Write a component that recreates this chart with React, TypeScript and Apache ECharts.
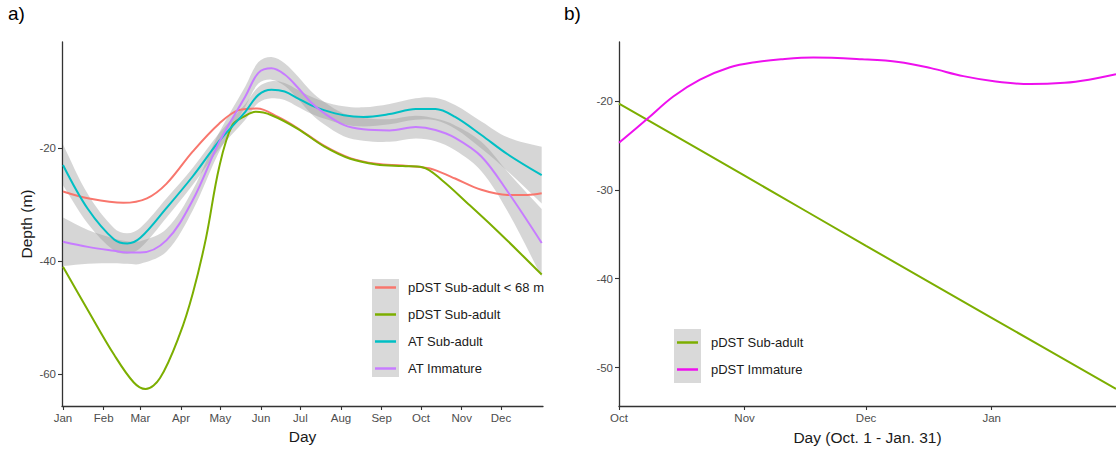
import React, { useEffect, useRef } from "react";
import * as echarts from "echarts";

// ---------- Panel a: tick labels ----------
const monthNames = ["Jan", "Feb", "Mar", "Apr", "May", "Jun", "Jul", "Aug", "Sep", "Oct", "Nov", "Dec"];
const monthStartDays = [1, 32, 60, 91, 121, 152, 182, 213, 244, 274, 305, 335];
const depthTicksA = [-60, -40, -20];

// ---------- Panel a: series (day of year, depth m) ----------
const daysRed = [1, 20, 47, 65, 80, 100, 120, 135, 149, 165, 180, 200, 220, 240, 260, 280, 290, 300, 320, 340, 355, 366];
const depthRed = [-27.7, -28.9, -29.7, -28.9, -26.3, -20.6, -15.7, -13.3, -13.0, -14.5, -16.5, -19.6, -21.8, -22.8, -23.1, -23.6, -24.4, -25.4, -27.4, -28.3, -28.3, -28.0];

const daysGreen = [1, 20, 40, 55, 64, 75, 90, 100, 110, 120, 130, 140, 148, 160, 180, 200, 220, 240, 260, 275, 290, 310, 330, 350, 366];
const depthGreen = [-41.0, -48.7, -56.6, -61.5, -62.65, -60.7, -53.0, -45.7, -36.0, -23.5, -16.0, -14.3, -13.6, -14.2, -16.6, -19.7, -21.9, -22.9, -23.2, -23.4, -25.7, -29.9, -34.2, -38.7, -42.4];

const daysAT = [1, 20, 40, 50, 60, 80, 100, 120, 140, 150, 160, 170, 180, 190, 200, 215, 230, 250, 270, 285, 300, 320, 340, 366];
const depthCyan = [-23.0, -30.8, -36.2, -36.9, -35.9, -30.6, -25.0, -18.8, -13.6, -10.6, -9.7, -10.0, -11.2, -12.4, -13.3, -14.2, -14.5, -14.0, -13.1, -13.1, -14.5, -17.7, -21.1, -24.8];
const cyanHalf = [3.6, 2.6, 2.0, 1.8, 1.8, 1.7, 1.5, 1.4, 1.4, 1.4, 1.5, 1.5, 1.5, 1.5, 1.5, 1.6, 1.7, 1.8, 1.9, 2.0, 2.1, 2.4, 3.0, 5.0];
const depthPurple = [-36.6, -37.5, -38.2, -38.5, -38.5, -36.3, -29.2, -19.0, -10.9, -6.7, -5.9, -7.0, -9.3, -11.9, -13.8, -15.9, -16.7, -16.9, -16.3, -16.8, -18.2, -21.5, -27.7, -36.8];
const purpleHalf = [4.3, 3.0, 2.2, 2.0, 2.0, 2.0, 1.8, 1.7, 1.8, 1.9, 2.0, 2.0, 2.0, 2.0, 2.0, 2.0, 2.0, 2.0, 2.0, 2.0, 2.2, 2.6, 3.5, 6.0];

// ---------- Panel b ----------
const monthNamesB = ["Oct", "Nov", "Dec", "Jan"];
const monthStartB = [0, 31, 61, 92];
const depthTicksB = [-50, -40, -30, -20];
const daysGreenB = [0, 31, 61, 92, 122.7];
const depthGreenB = [-20.3, -28.4, -36.3, -44.4, -52.4];
const daysMagentaB = [0, 7, 13.4, 20, 27.4, 34, 40, 48, 60, 69, 77, 85, 93, 101.5, 110, 116, 122.7];
const depthMagentaB = [-24.7, -22.0, -19.5, -17.6, -16.2, -15.6, -15.3, -15.1, -15.3, -15.6, -16.3, -17.2, -17.8, -18.1, -17.95, -17.6, -17.0];

const namesA = ["pDST Sub-adult < 68 m", "pDST Sub-adult", "AT Sub-adult", "AT Immature"];
const namesB = ["pDST Sub-adult", "pDST Immature"];

const C_RED = "#F8766D";
const C_GREEN = "#7CAE00";
const C_CYAN = "#00BFC4";
const C_PURPLE = "#C77CFF";
const C_MAGENTA = "#EE10EE";
const RIBBON = "rgba(153,153,153,0.4)";
const FONT = "Liberation Sans";
const SMOOTH = 0.35;

const zip = (xs: number[], ys: number[]) => xs.map((x, i) => [x, ys[i]]);

function lineSeries(name: string, xs: number[], ys: number[], color: string, gi: number) {
  return {
    type: "line",
    name,
    xAxisIndex: gi,
    yAxisIndex: gi,
    data: zip(xs, ys),
    smooth: SMOOTH,
    showSymbol: false,
    symbol: "none",
    lineStyle: { color, width: 2 },
    itemStyle: { color },
    z: 5,
  };
}

// confidence band drawn as one smoothed polygon through the axis scales
function ribbon(key: string, xs: number[], mid: number[], half: number[]) {
  return {
    type: "custom",
    name: key,
    xAxisIndex: 0,
    yAxisIndex: 0,
    silent: true,
    clip: true,
    z: 1,
    data: xs.map((x, i) => [x, mid[i] - half[i], mid[i] + half[i]]),
    encode: { x: 0, y: [1, 2] },
    renderItem: (params: any, api: any) => {
      if (params.dataIndex !== 0) return null;
      const upper = xs.map((x, i) => api.coord([x, mid[i] + half[i]]));
      const lower = xs.map((x, i) => api.coord([x, mid[i] - half[i]])).reverse();
      const pts = [upper[0], ...upper, upper[upper.length - 1], lower[0], ...lower, lower[lower.length - 1]];
      return {
        type: "polygon",
        shape: { points: pts, smooth: SMOOTH },
        style: { fill: RIBBON },
      };
    },
  };
}

const axisLineStyle = { show: true, onZero: false, lineStyle: { color: "#333333", width: 1.3 } };
const tickStyle = { show: true, length: 4, lineStyle: { color: "#333333", width: 1.1 } };
const labelBase = { color: "#4d4d4d", fontSize: 11.5, fontFamily: FONT };
const titleStyle = { color: "#1a1a1a", fontSize: 15.5, fontFamily: FONT };
const legendText = { color: "#1a1a1a", fontSize: 13, fontFamily: FONT, lineHeight: 27 };

export default function App() {
  const ref = useRef<HTMLDivElement>(null);
  useEffect(() => {
    if (!ref.current) return;
    const chart = echarts.init(ref.current, undefined, { renderer: "svg" });
    const option: any = {
      animation: false,
      backgroundColor: "#ffffff",
      textStyle: { fontFamily: FONT },
      grid: [
        { left: 62, top: 42, width: 481, height: 364 },
        { left: 619, top: 42, width: 497, height: 364 },
      ],
      xAxis: [
        {
          gridIndex: 0,
          type: "value",
          min: 0.25,
          max: 367,
          name: "Day",
          nameLocation: "middle",
          nameGap: 21,
          nameTextStyle: titleStyle,
          axisLine: axisLineStyle,
          axisTick: { ...tickStyle, customValues: monthStartDays },
          axisLabel: {
            ...labelBase,
            margin: 6,
            customValues: monthStartDays,
            formatter: (v: number) => monthNames[monthStartDays.indexOf(v)] ?? "",
          },
          splitLine: { show: false },
        },
        {
          gridIndex: 1,
          type: "value",
          min: 0,
          max: 122.7,
          name: "Day (Oct. 1 - Jan. 31)",
          nameLocation: "middle",
          nameGap: 23,
          nameTextStyle: titleStyle,
          axisLine: axisLineStyle,
          axisTick: { ...tickStyle, customValues: monthStartB },
          axisLabel: {
            ...labelBase,
            margin: 6,
            customValues: monthStartB,
            formatter: (v: number) => monthNamesB[monthStartB.indexOf(v)] ?? "",
          },
          splitLine: { show: false },
        },
      ],
      yAxis: [
        {
          gridIndex: 0,
          type: "value",
          min: -65.66,
          max: -1.24,
          name: "Depth (m)",
          nameLocation: "middle",
          nameGap: 28,
          nameTextStyle: titleStyle,
          axisLine: axisLineStyle,
          axisTick: { ...tickStyle, customValues: depthTicksA },
          axisLabel: { ...labelBase, margin: 6, customValues: depthTicksA },
          splitLine: { show: false },
        },
        {
          gridIndex: 1,
          type: "value",
          min: -54.32,
          max: -13.36,
          axisLine: axisLineStyle,
          axisTick: { ...tickStyle, customValues: depthTicksB },
          axisLabel: { ...labelBase, margin: 6, customValues: depthTicksB },
          splitLine: { show: false },
        },
      ],
      legend: [
        {
          data: namesA,
          orient: "vertical",
          left: 375,
          top: 274,
          padding: 0,
          itemWidth: 21,
          itemHeight: 2.5,
          itemGap: 0,
          icon: "rect",
          selectedMode: false,
          textStyle: { ...legendText, padding: [0, 0, 0, 7] },
        },
        {
          data: namesB,
          orient: "vertical",
          left: 677,
          top: 329,
          padding: 0,
          itemWidth: 21,
          itemHeight: 2.5,
          itemGap: 0,
          icon: "rect",
          selectedMode: false,
          textStyle: { ...legendText, padding: [0, 0, 0, 8] },
        },
      ],
      graphic: [
        { type: "text", left: 8, top: 4, style: { text: "a)", fontSize: 19, fill: "#000", fontFamily: FONT } },
        { type: "text", left: 564, top: 4, style: { text: "b)", fontSize: 19, fill: "#000", fontFamily: FONT } },
        { type: "rect", shape: { x: 372, y: 279, width: 27, height: 98 }, style: { fill: "#d9d9d9" }, z: -1 },
        { type: "rect", shape: { x: 674, y: 329, width: 27, height: 54 }, style: { fill: "#d9d9d9" }, z: -1 },
      ],
      series: [
        ribbon("cyanRibbon", daysAT, depthCyan, cyanHalf),
        ribbon("purpleRibbon", daysAT, depthPurple, purpleHalf),
        lineSeries(namesA[0], daysRed, depthRed, C_RED, 0),
        lineSeries(namesA[1], daysGreen, depthGreen, C_GREEN, 0),
        lineSeries(namesA[2], daysAT, depthCyan, C_CYAN, 0),
        lineSeries(namesA[3], daysAT, depthPurple, C_PURPLE, 0),
        lineSeries(namesB[0], daysGreenB, depthGreenB, C_GREEN, 1),
        lineSeries(namesB[1], daysMagentaB, depthMagentaB, C_MAGENTA, 1),
      ],
    };
    chart.setOption(option);
    return () => chart.dispose();
  }, []);
  return (
    <div
      ref={ref}
      style={{ position: "fixed", left: 0, top: 0, width: 1116, height: 451, background: "#fff" }}
    />
  );
}
